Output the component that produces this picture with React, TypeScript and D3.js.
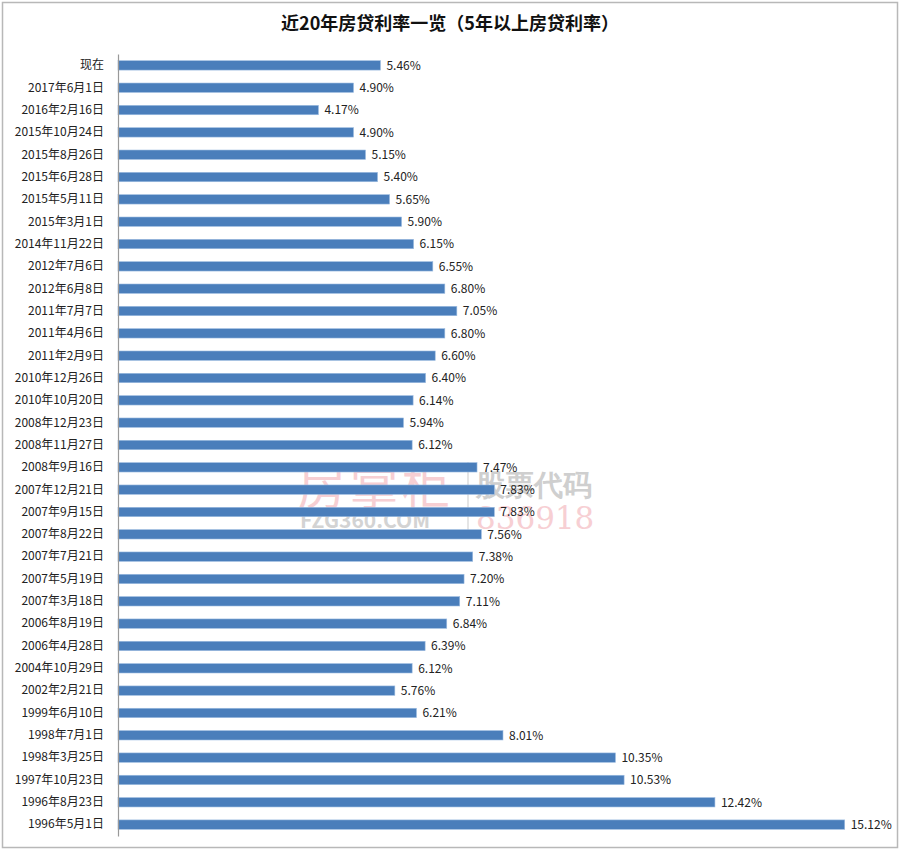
import React, { useEffect, useRef } from 'react';
import * as d3 from 'd3';

const categories = [
    '现在', '2017年6月1日', '2016年2月16日', '2015年10月24日', '2015年8月26日', '2015年6月28日',
    '2015年5月11日', '2015年3月1日', '2014年11月22日', '2012年7月6日', '2012年6月8日', '2011年7月7日',
    '2011年4月6日', '2011年2月9日', '2010年12月26日', '2010年10月20日', '2008年12月23日', '2008年11月27日',
    '2008年9月16日', '2007年12月21日', '2007年9月15日', '2007年8月22日', '2007年7月21日', '2007年5月19日',
    '2007年3月18日', '2006年8月19日', '2006年4月28日', '2004年10月29日', '2002年2月21日', '1999年6月10日',
    '1998年7月1日', '1998年3月25日', '1997年10月23日', '1996年8月23日', '1996年5月1日',
];

const rates = [
    5.46, 4.90, 4.17, 4.90, 5.15, 5.40,
    5.65, 5.90, 6.15, 6.55, 6.80, 7.05,
    6.80, 6.60, 6.40, 6.14, 5.94, 6.12,
    7.47, 7.83, 7.83, 7.56, 7.38, 7.20,
    7.11, 6.84, 6.39, 6.12, 5.76, 6.21,
    8.01, 10.35, 10.53, 12.42, 15.12,
];

const xDomain = [0, 16];
const title = '近20年房贷利率一览（5年以上房贷利率）';

const App = () => {
    const svgRef = useRef(null);

    useEffect(() => {
        document.body.style.margin = '0';
        const W = 900, H = 850;
        const margin = { top: 54, right: 13, bottom: 14, left: 118 };
        const width = W - margin.left - margin.right;
        const height = H - margin.top - margin.bottom;

        const svg = d3.select(svgRef.current);
        svg.selectAll('*').remove();
        svg.attr('viewBox', `0 0 ${W} ${H}`);

        const font = '"Noto Sans CJK SC", "Noto Sans", sans-serif';

        // frame
        svg.append('rect')
            .attr('x', 2.5).attr('y', 2.5)
            .attr('width', W - 5).attr('height', H - 5)
            .attr('fill', '#fff')
            .attr('stroke', '#b8b8b8')
            .attr('stroke-width', 1.5);

        svg.append('text')
            .attr('x', W / 2)
            .attr('y', 30)
            .attr('text-anchor', 'middle')
            .attr('font-family', font)
            .attr('font-weight', 'bold')
            .attr('font-size', '18px')
            .attr('fill', '#111')
            .text(title);

        const g = svg.append('g').attr('transform', `translate(${margin.left},${margin.top})`);

        const x = d3.scaleLinear().domain(xDomain).range([0, width]);
        const y = d3.scaleBand().domain(categories).range([0, height]).paddingInner(0.58).paddingOuter(0.3);

        // watermark (faint, behind the bars)
        const wm = g.append('g').attr('opacity', 0.5);
        wm.append('text').attr('x', 180).attr('y', 450).attr('font-family', font)
            .attr('font-size', '48px').attr('fill', '#f0a0a8').attr('letter-spacing', '4px').text('房掌柜');
        wm.append('text').attr('x', 182).attr('y', 474).attr('font-family', font)
            .attr('font-weight', 'bold').attr('font-size', '21px').attr('fill', '#a8a8a8').text('FZG360.COM');
        wm.append('line').attr('x1', 350).attr('x2', 350).attr('y1', 408).attr('y2', 478)
            .attr('stroke', '#999').attr('stroke-width', 1);
        wm.append('text').attr('x', 358).attr('y', 441).attr('font-family', '"DejaVu Serif", serif')
            .attr('font-weight', 'bold').attr('font-size', '29px').attr('fill', '#a0a0a0').text('股票代码');
        wm.append('text').attr('x', 358).attr('y', 475).attr('font-family', '"DejaVu Serif", serif')
            .attr('font-size', '31px').attr('fill', '#f0a0a8').text('836918');

        // bars
        g.selectAll('rect.bar')
            .data(rates)
            .join('rect')
            .attr('class', 'bar')
            .attr('x', 0)
            .attr('y', (d, i) => y(categories[i]))
            .attr('width', d => x(d))
            .attr('height', y.bandwidth())
            .attr('fill', '#4a7ebb')
            .attr('stroke', '#9cbbe0')
            .attr('stroke-width', 0.6);

        // value labels
        g.selectAll('text.val')
            .data(rates)
            .join('text')
            .attr('class', 'val')
            .attr('x', d => x(d) + 6)
            .attr('y', (d, i) => y(categories[i]) + y.bandwidth() / 2)
            .attr('dy', '0.36em')
            .attr('font-family', font)
            .attr('font-size', '12px')
            .attr('fill', '#222')
            .text(d => `${d.toFixed(2)}%`);

        // category axis
        const yAxis = d3.axisLeft(y).tickSize(0).tickPadding(14);
        const ax = g.append('g').call(yAxis);
        ax.select('.domain').attr('stroke', '#999').attr('stroke-width', 1.2);
        ax.selectAll('text')
            .attr('font-family', font)
            .attr('font-size', '12px')
            .attr('fill', '#222');
    }, []);

    return <svg ref={svgRef} width={900} height={850} style={{ display: 'block' }}></svg>;
};

export default App;
